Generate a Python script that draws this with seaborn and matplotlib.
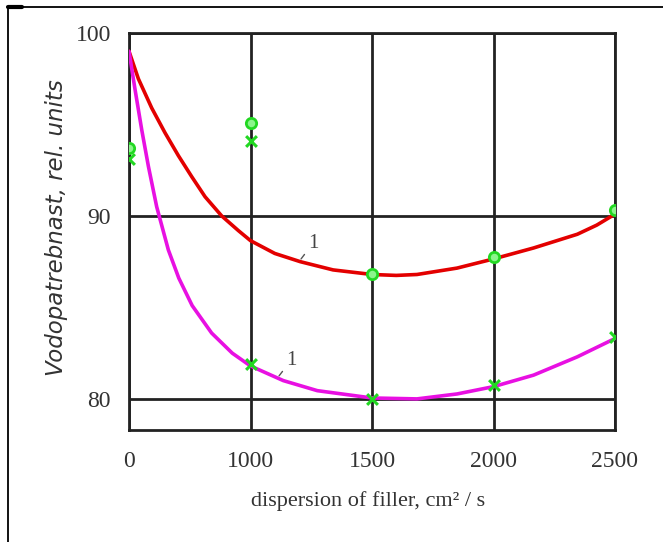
import numpy as np
import pandas as pd
import seaborn as sns
import matplotlib.pyplot as plt
from matplotlib.lines import Line2D

# categories on the x axis (drawn equally spaced)
dispersion = ["0", "1000", "1500", "2000", "2500"]
cat_pos = [0, 1, 2, 3, 4]

# curve 1 (red), x in category positions
red_x = [0, 0.077, 0.187, 0.296, 0.406, 0.516, 0.626, 0.763, 0.9, 1.0, 1.2, 1.41, 1.68,
         2.0, 2.2, 2.37, 2.7, 3.0, 3.33, 3.69, 3.85, 4.0]
red_y = [99.0, 97.5, 95.9, 94.55, 93.3, 92.15, 91.05, 90.0, 89.2, 88.65, 87.95, 87.5, 87.05,
         86.8, 86.75, 86.8, 87.15, 87.65, 88.25, 89.0, 89.5, 90.1]

# curve 1 (magenta)
mag_x = [0, 0.05, 0.105, 0.16, 0.228, 0.324, 0.41, 0.52, 0.68, 0.85, 1.0, 1.27, 1.55,
         2.0, 2.37, 2.7, 3.0, 3.33, 3.69, 4.0]
mag_y = [99.0, 96.9, 94.7, 92.7, 90.5, 88.14, 86.6, 85.1, 83.6, 82.5, 81.8, 81.0, 80.45,
         80.05, 80.0, 80.27, 80.67, 81.3, 82.3, 83.3]

# experimental points
circ_x = [0, 1, 2, 3, 4]
circ_y = [93.7, 95.1, 86.8, 87.75, 90.3]
star_x = [0, 1, 1, 2, 3, 4]
star_y = [93.1, 94.1, 81.9, 80.0, 80.75, 83.4]

sns.set_style("white")

fig = plt.figure(figsize=(6.63, 5.42), dpi=100)
ax = fig.add_axes([129 / 663, 1 - 430 / 542, 486 / 663, 397 / 542])

df_red = pd.DataFrame({"x": red_x, "y": red_y})
df_mag = pd.DataFrame({"x": mag_x, "y": mag_y})
sns.lineplot(data=df_red, x="x", y="y", estimator=None, sort=False, color="#e30000", linewidth=2.6, ax=ax, zorder=3)
sns.lineplot(data=df_mag, x="x", y="y", estimator=None, sort=False, color="#e810e2", linewidth=2.6, ax=ax, zorder=3)

ax.scatter(circ_x, circ_y, marker="o", s=55, facecolor="#8cf58c", edgecolor="#22d822", linewidth=2, zorder=5)
ax.scatter(star_x, star_y, marker="x", s=60, color="#22d822", linewidth=2.2, zorder=5)

# curve labels with small leader strokes
ax.annotate("1", xy=(1.416, 87.65), xytext=(1.514, 88.5), fontsize=15, family="Liberation Serif",
            color="#444444", ha="center", va="center",
            arrowprops=dict(arrowstyle="-", color="#555555", lw=1, shrinkA=6, shrinkB=0))
ax.annotate("1", xy=(1.235, 81.26), xytext=(1.333, 82.1), fontsize=15, family="Liberation Serif",
            color="#444444", ha="center", va="center",
            arrowprops=dict(arrowstyle="-", color="#555555", lw=1, shrinkA=6, shrinkB=0))

ax.set_xlim(0, 4)
ax.set_ylim(78.3, 100)
ax.set_xticks(cat_pos)
ax.set_xticklabels(dispersion)
ax.set_yticks([80, 90, 100])
ax.set_yticklabels(["80", "90", "100"])
ax.tick_params(axis="both", length=0, labelsize=17, colors="#333333")
ax.tick_params(axis="x", pad=15)
ax.tick_params(axis="y", pad=13)
for lab in ax.get_xticklabels() + ax.get_yticklabels():
    lab.set_family("Liberation Serif")

ax.grid(True, color="#222222", linewidth=2)
for s in ax.spines.values():
    s.set_color("#222222")
    s.set_linewidth(2)
    s.set_visible(True)

ax.set_xlabel("dispersion of filler, cm² / s", fontsize=16, family="Liberation Serif", color="#333333")
ax.set_ylabel("Vodopatrebnast, rel. units", fontsize=16.5, family="DejaVu Sans", style="italic", color="#333333")
ax.xaxis.set_label_coords(0.492, -0.155)
ax.yaxis.set_label_coords(-0.125, 0.51)

# partial outer frame
fig.add_artist(Line2D([8 / 663, 1], [1 - 7 / 542, 1 - 7 / 542], color="black", linewidth=1.3))
fig.add_artist(Line2D([8 / 663, 8 / 663], [0, 1 - 7 / 542], color="black", linewidth=1.3))
fig.add_artist(Line2D([8 / 663, 22 / 663], [1 - 7 / 542, 1 - 7 / 542], color="black", linewidth=3))

fig.savefig("out.png", dpi=100)
